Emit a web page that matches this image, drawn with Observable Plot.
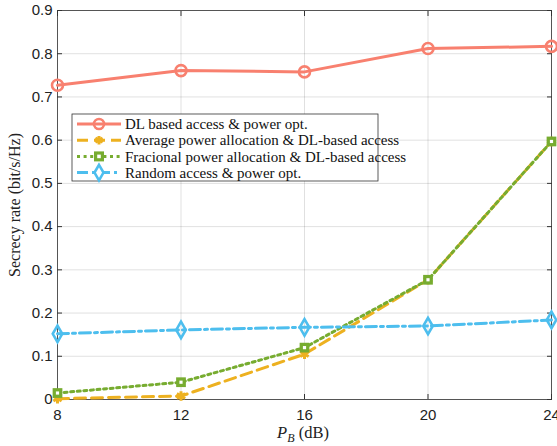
<!DOCTYPE html>
<html><head><meta charset="utf-8">
<script src="https://cdn.jsdelivr.net/npm/d3@7"></script>
<script src="https://cdn.jsdelivr.net/npm/@observablehq/plot@0.6"></script>
<style>body{margin:0;background:#fff}</style>
</head><body><div id="chart"></div>
<script>
const xValues = [8, 12, 16, 20, 24];
const dlAccess = [0.727, 0.761, 0.758, 0.812, 0.817];
const avgPower = [0.002, 0.008, 0.105, 0.277, 0.597];
const fracPower = [0.015, 0.040, 0.120, 0.277, 0.597];
const randomAccess = [0.152, 0.161, 0.167, 0.170, 0.184];
const seriesNames = [
  "DL based access & power opt.",
  "Average power allocation & DL-based access",
  "Fracional power allocation & DL-based access",
  "Random access & power opt."
];
const xTicks = [8, 12, 16, 20, 24];
const yTicks = [0, 0.1, 0.2, 0.3, 0.4, 0.5, 0.6, 0.7, 0.8, 0.9];

const colors = ["#F8806F", "#EDB120", "#77AC30", "#4DBEEE"];
const dashes = [null, "11,6", "3,3.6", "11,4,3,4"];
const allSeries = [dlAccess, avgPower, fracPower, randomAccess];
const table = allSeries.flatMap((vals, i) => vals.map((v, j) => ({x: xValues[j], y: v, s: i})));
const bySeries = i => table.filter(d => d.s === i);

const W = 557, H = 446;
const marks = [
  Plot.gridX(xTicks, {stroke: "#000", strokeOpacity: 0.12}),
  Plot.gridY(yTicks, {stroke: "#000", strokeOpacity: 0.12}),
  Plot.frame({stroke: "#555", strokeWidth: 1}),
  Plot.axisX(xTicks, {tickSize: -5, stroke: "#333", tickPadding: 15, fontSize: 15, fill: "#222", label: null}),
  Plot.axisX(xTicks, {anchor: "top", tickSize: -5, stroke: "#333", text: null, label: null}),
  Plot.axisY(yTicks, {tickSize: -5, stroke: "#333", tickPadding: 10, fontSize: 15, fill: "#222", label: null, tickFormat: d => String(+d.toFixed(1))}),
  Plot.axisY(yTicks, {anchor: "right", tickSize: -5, stroke: "#333", text: null, label: null}),
];
allSeries.forEach((_, i) => {
  marks.push(Plot.line(bySeries(i), {x: "x", y: "y", stroke: colors[i], strokeWidth: 3, strokeDasharray: dashes[i]}));
});
marks.push(Plot.dot(bySeries(0), {x: "x", y: "y", r: 5.5, stroke: colors[0], strokeWidth: 2.6, fill: "none"}));
marks.push(Plot.dot(bySeries(1), {x: "x", y: "y", symbol: "asterisk", r: 4.5, stroke: colors[1], strokeWidth: 3}));
marks.push(Plot.dot(bySeries(2), {x: "x", y: "y", symbol: "square", r: 5.5, fill: colors[2], stroke: "none"}));
marks.push(Plot.dot(bySeries(2), {x: "x", y: "y", symbol: "square", r: 1.8, fill: "#fff", stroke: "none"}));
marks.push(Plot.dot(bySeries(3), {x: "x", y: "y", symbol: "diamond", r: 5, stroke: colors[3], strokeWidth: 2.6, fill: "none"}));

const plot = Plot.plot({
  width: W, height: H,
  marginLeft: 57, marginRight: 6, marginTop: 10, marginBottom: 47,
  x: {domain: [8, 24], label: null},
  y: {domain: [0, 0.9], label: null},
  style: {background: "#fff", overflow: "visible", fontFamily: "'Liberation Sans', Arial, sans-serif"},
  marks
});

const svg = d3.select(plot);
const serif = "'Liberation Serif', 'Times New Roman', serif";
// axis titles
const xl = svg.append("text").attr("x", 303).attr("y", 438).attr("text-anchor", "middle")
  .attr("font-family", serif).attr("font-size", 16.5).attr("fill", "#222");
xl.append("tspan").attr("font-style", "italic").text("P");
xl.append("tspan").attr("font-style", "italic").attr("font-size", 12).attr("dy", 4).text("B");
xl.append("tspan").attr("dy", -4).text(" (dB)");
svg.append("text").attr("transform", "translate(20,205) rotate(-90)").attr("text-anchor", "middle")
  .attr("font-family", serif).attr("font-size", 16).attr("fill", "#222")
  .text("Secrecy rate (bit/s/Hz)");

// legend
const lg = svg.append("g").attr("transform", "translate(72,114)");
lg.append("rect").attr("width", 306).attr("height", 67).attr("fill", "#fff").attr("stroke", "#333").attr("stroke-width", 0.8);
seriesNames.forEach((name, i) => {
  const y = 10 + i * 16.2;
  lg.append("line").attr("x1", 5).attr("x2", 49).attr("y1", y).attr("y2", y)
    .attr("stroke", colors[i]).attr("stroke-width", 3).attr("stroke-dasharray", dashes[i]);
  const cx = 27;
  if (i === 0) lg.append("circle").attr("cx", cx).attr("cy", y).attr("r", 5).attr("fill", "none").attr("stroke", colors[0]).attr("stroke-width", 2.6);
  if (i === 1) lg.append("path").attr("transform", `translate(${cx},${y})`).attr("d", d3.symbol(d3.symbolAsterisk, 50)()).attr("stroke", colors[1]).attr("stroke-width", 3);
  if (i === 2) {
    lg.append("rect").attr("x", cx - 5).attr("y", y - 5).attr("width", 10).attr("height", 10).attr("fill", colors[2]);
    lg.append("rect").attr("x", cx - 1.8).attr("y", y - 1.8).attr("width", 3.6).attr("height", 3.6).attr("fill", "#fff");
  }
  if (i === 3) lg.append("path").attr("transform", `translate(${cx},${y})`).attr("d", d3.symbol(d3.symbolDiamond, 70)()).attr("fill", "#fff").attr("stroke", colors[3]).attr("stroke-width", 2.6);
  lg.append("text").attr("x", 53).attr("y", y).attr("dy", "0.35em").attr("text-anchor", "start")
    .attr("font-family", serif).attr("font-size", 15).attr("fill", "#111").text(name);
});

document.getElementById("chart").appendChild(plot);
</script>
</body></html>
